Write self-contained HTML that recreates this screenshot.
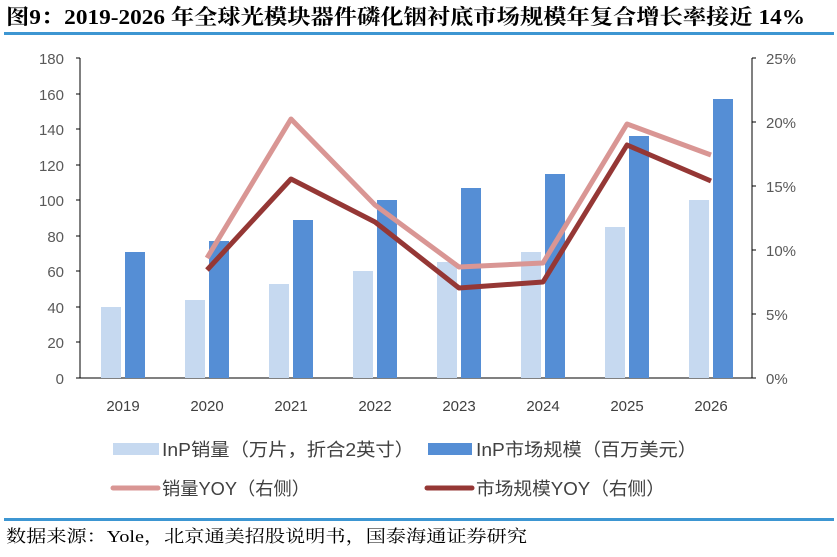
<!DOCTYPE html>
<html><head><meta charset="utf-8"><style>
body{margin:0;background:#fff;}
svg text{font-family:"Liberation Sans","Noto Sans CJK SC",sans-serif;}
</style></head><body>
<svg width="837" height="552" xmlns="http://www.w3.org/2000/svg">
<text x="6" y="24" font-size="21" font-weight="bold" fill="#000" textLength="799" lengthAdjust="spacingAndGlyphs" style="font-family:'Liberation Serif','Noto Serif CJK SC',serif">图9：2019-2026 年全球光模块器件磷化铟衬底市场规模年复合增长率接近 14%</text>
<rect x="4" y="32" width="830" height="3" fill="#3d96d2"/>
<g stroke="#000" stroke-width="1">
<line x1="80" y1="58" x2="80" y2="378"/>
<line x1="80" y1="378" x2="752" y2="378"/>
<line x1="752" y1="58" x2="752" y2="378"/>
</g>
<g stroke="#000">
<line x1="76" y1="58" x2="80" y2="58"/><line x1="76" y1="94" x2="80" y2="94"/><line x1="76" y1="129" x2="80" y2="129"/><line x1="76" y1="165" x2="80" y2="165"/><line x1="76" y1="200" x2="80" y2="200"/><line x1="76" y1="236" x2="80" y2="236"/><line x1="76" y1="271" x2="80" y2="271"/><line x1="76" y1="307" x2="80" y2="307"/><line x1="76" y1="342" x2="80" y2="342"/><line x1="76" y1="378" x2="80" y2="378"/>
<line x1="752" y1="58" x2="756" y2="58"/><line x1="752" y1="122" x2="756" y2="122"/><line x1="752" y1="186" x2="756" y2="186"/><line x1="752" y1="250" x2="756" y2="250"/><line x1="752" y1="314" x2="756" y2="314"/><line x1="752" y1="378" x2="756" y2="378"/>
</g>
<g font-size="15" fill="#595959" text-anchor="end">
<text x="64" y="64">180</text><text x="64" y="100">160</text><text x="64" y="135">140</text><text x="64" y="171">120</text><text x="64" y="206">100</text><text x="64" y="242">80</text><text x="64" y="277">60</text><text x="64" y="313">40</text><text x="64" y="348">20</text><text x="64" y="384">0</text>
</g>
<g font-size="15" fill="#595959" text-anchor="start">
<text x="766" y="64">25%</text><text x="766" y="128">20%</text><text x="766" y="192">15%</text><text x="766" y="256">10%</text><text x="766" y="320">5%</text><text x="766" y="384">0%</text>
</g>
<g fill="#c6d9f0">
<rect x="101" y="307" width="20" height="71"/><rect x="185" y="300" width="20" height="78"/><rect x="269" y="284" width="20" height="94"/><rect x="353" y="271" width="20" height="107"/><rect x="437" y="262" width="20" height="116"/><rect x="521" y="252" width="20" height="126"/><rect x="605" y="227" width="20" height="151"/><rect x="689" y="200" width="20" height="178"/>
</g>
<g fill="#558ed5">
<rect x="125" y="252" width="20" height="126"/><rect x="209" y="241" width="20" height="137"/><rect x="293" y="220" width="20" height="158"/><rect x="377" y="200" width="20" height="178"/><rect x="461" y="188" width="20" height="190"/><rect x="545" y="174" width="20" height="204"/><rect x="629" y="136" width="20" height="242"/><rect x="713" y="99" width="20" height="279"/>
</g>
<polyline fill="none" stroke="#d99694" stroke-width="5" stroke-linejoin="round" points="207,258 291,119 375,205 459,267 543,263 627,124 711,155"/>
<polyline fill="none" stroke="#953735" stroke-width="5" stroke-linejoin="round" points="207,270 291,179 375,222 459,288 543,282 627,145 711,181"/>
<g font-size="15" fill="#404040" text-anchor="middle">
<text x="123" y="411">2019</text><text x="207" y="411">2020</text><text x="291" y="411">2021</text><text x="375" y="411">2022</text><text x="459" y="411">2023</text><text x="543" y="411">2024</text><text x="627" y="411">2025</text><text x="711" y="411">2026</text>
</g>
<rect x="113" y="443" width="46" height="12" fill="#c6d9f0"/>
<text x="162" y="456" font-size="18" fill="#404040" textLength="252" lengthAdjust="spacingAndGlyphs">InP销量（万片，折合2英寸）</text>
<rect x="428" y="443" width="44" height="12" fill="#558ed5"/>
<text x="476" y="456" font-size="18" fill="#404040" textLength="221" lengthAdjust="spacingAndGlyphs">InP市场规模（百万美元）</text>
<line x1="113" y1="488" x2="158" y2="488" stroke="#d99694" stroke-width="5" stroke-linecap="round"/>
<text x="162" y="495" font-size="18" fill="#404040" textLength="148" lengthAdjust="spacingAndGlyphs">销量YOY（右侧）</text>
<line x1="427" y1="488" x2="472" y2="488" stroke="#953735" stroke-width="5" stroke-linecap="round"/>
<text x="476" y="495" font-size="18" fill="#404040" textLength="189" lengthAdjust="spacingAndGlyphs">市场规模YOY（右侧）</text>
<rect x="4" y="518" width="830" height="3" fill="#3d96d2"/>
<text x="6" y="542" font-size="17" fill="#000" textLength="521" lengthAdjust="spacingAndGlyphs" style="font-family:'Liberation Serif','Noto Serif CJK SC',serif">数据来源：Yole，北京通美招股说明书，国泰海通证券研究</text>
</svg>
</body></html>
